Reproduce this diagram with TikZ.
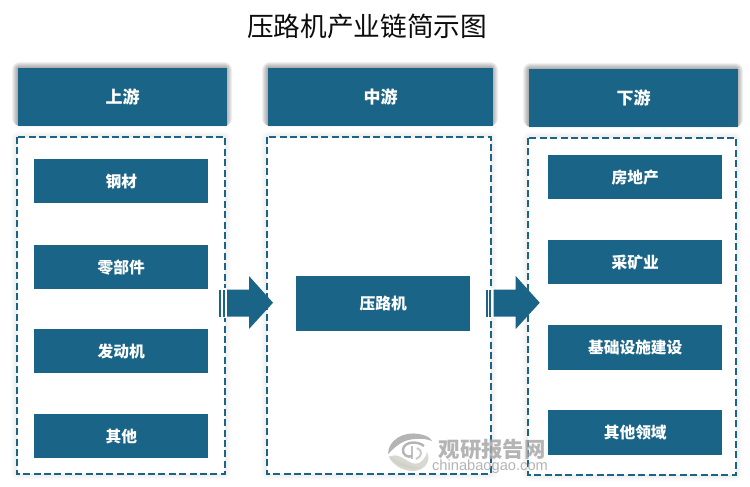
\documentclass[tikz,border=0pt]{standalone}
\usepackage{fontspec}
\setmainfont{Noto Sans CJK SC}
\newfontfamily\latinwm{Liberation Sans}
\usetikzlibrary{positioning,calc}
\definecolor{teal1}{HTML}{1A6587}
\definecolor{wm}{HTML}{A8A8A8}
\definecolor{wmb}{HTML}{D2D0C8}
\newcommand{\softshadow}[4]{% x0,y0(bottom),x1,y1(top)
  \foreach \d in {6,5,4,3,2,1}{
    \fill[black,opacity=0.06,rounded corners=\d] (#1-\d,#2) rectangle (#3+\d,#4+\d);
  }
}
\newcommand{\lightshadow}[4]{%
  \foreach \d in {6,5,4,3,2,1}{
    \fill[black,opacity=0.012,rounded corners=\d] (#1-\d,#2-\d) rectangle (#3+\d,#4+\d);
  }
}
\newcommand{\blockarrow}[1]{%
  \begin{scope}[xshift=#1]
    \fill[white] (217.5,-287.5) rectangle (227,-317.5);
    \fill[teal1] (219,-289.5) rectangle (221,-316.5);
    \fill[teal1] (222.5,-289.5) rectangle (224.5,-316.5);
    \fill[teal1] (227,-289.5) -- (249,-289.5) -- (249,-276) -- (273,-302.7) -- (249,-329) -- (249,-316.5) -- (227,-316.5) -- cycle;
  \end{scope}
}
\tikzset{
  x=0.75pt,y=0.75pt,
  headbox/.style={fill=teal1,text=white,font=\bfseries\fontsize{12.75}{14}\selectfont,inner sep=0pt,anchor=north west},
  itembox/.style={fill=teal1,text=white,font=\bfseries\fontsize{11.8}{14}\selectfont,inner sep=0pt,anchor=north west},
  dashbox/.style={draw=teal1,line width=1.3pt,dash pattern=on 5.2pt off 2.6pt,fill=white},
}
\begin{document}
\begin{tikzpicture}
\useasboundingbox (0,0) rectangle (750,-486);
\fill[white] (0,0) rectangle (750,-486);

\node[font=\fontsize{20}{24}\selectfont,text=black!95] (title) at (367,-26) {压路机产业链简示图};

% shadows
\softshadow{18}{-126}{226}{-68}
\softshadow{268}{-126}{492}{-68}
\softshadow{529}{-127}{737}{-69}
\lightshadow{17}{-474}{225}{-137}
\lightshadow{267}{-474}{491}{-137}
\lightshadow{528}{-475}{736}{-138}

% dashed panels
\draw[dashbox] (17,-137) rectangle (225,-474);
\draw[dashbox] (267,-137) rectangle (491,-474);
\draw[dashbox] (528,-138) rectangle (736,-475);

% headers
\node[headbox,minimum width=156bp,minimum height=43.5bp] (up) at (18,-68) {上游};
\node[headbox,minimum width=168bp,minimum height=43.5bp] (mid) at (268,-68) {中游};
\node[headbox,minimum width=156bp,minimum height=43.5bp] (down) at (529,-69) {下游};

% left items
\node[itembox,minimum width=130bp,minimum height=33bp] (a1) at (34,-159) {钢材};
\node[itembox,minimum width=130bp,minimum height=33bp] (a2) at (34,-245) {零部件};
\node[itembox,minimum width=130bp,minimum height=33bp] (a3) at (34,-329) {发动机};
\node[itembox,minimum width=130bp,minimum height=33bp] (a4) at (34,-414) {其他};

% middle
\node[itembox,minimum width=130bp,minimum height=41bp] (m) at (296,-276) {\raisebox{-0.75pt}{压路机}};

% right items
\node[itembox,minimum width=130bp,minimum height=33bp] (c1) at (548,-155) {房地产};
\node[itembox,minimum width=130bp,minimum height=33bp] (c2) at (548,-240) {采矿业};
\node[itembox,minimum width=130bp,minimum height=33.5bp] (c3) at (548,-325) {基础设施建设};
\node[itembox,minimum width=130bp,minimum height=33.5bp] (c4) at (548,-409.5) {其他领域};

% block arrows
\blockarrow{0}
\blockarrow{199.3bp}

% watermark
\begin{scope}[opacity=0.85]
  % top crescent
  \fill[wm] (388,-454) .. controls (388,-440) and (404,-431) .. (419,-434)
     .. controls (425,-435) and (430,-437) .. (432,-441)
     .. controls (424,-438) and (414,-438) .. (405,-441)
     .. controls (398,-444) and (393,-449) .. (388,-454) -- cycle;
  % lower crescent
  \fill[wmb] (389,-456) .. controls (393,-464) and (406,-471) .. (421,-468)
     .. controls (408,-466) and (397,-461) .. (389,-456) -- cycle;
  \fill[wmb] (389,-457) .. controls (398,-452) and (404,-460) .. (412,-463)
     .. controls (420,-466) and (426,-458) .. (427,-452)
     .. controls (431,-460) and (426,-470) .. (414,-471)
     .. controls (402,-471) and (393,-465) .. (389,-457) -- cycle;
  % inner swirl
  \draw[wm,line width=1.8pt] (424,-446) .. controls (418,-441) and (405,-441) .. (403,-449) .. controls (402,-455) and (408,-458) .. (412,-456);
  \draw[wm!85,line width=1.5pt] (412,-446) -- (412,-459);
  \draw[wm!70,line width=1.5pt] (417,-448) .. controls (423,-450) and (422,-457) .. (416,-459);
  \node[text=wm,font=\bfseries\fontsize{16}{20}\selectfont,inner sep=0pt] (wm1) at (492,-449) {观研报告网};
  \node[text=wm,font=\latinwm\fontsize{11}{14}\selectfont,inner sep=0pt] (wm2) at (490,-467) {chinabaogao.com};
\end{scope}
\end{tikzpicture}
\end{document}
